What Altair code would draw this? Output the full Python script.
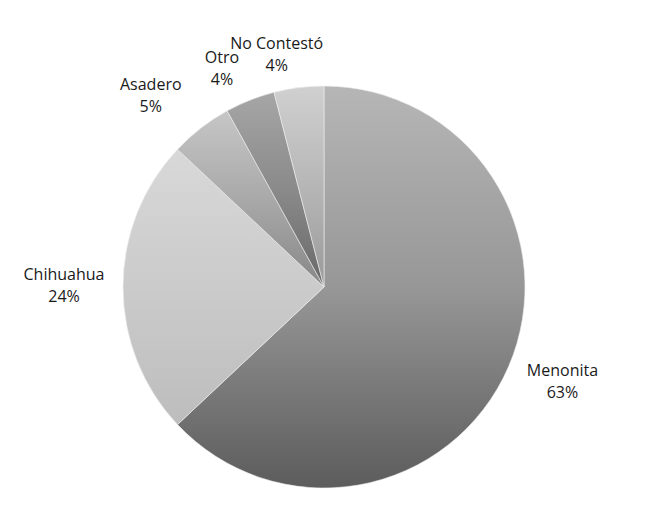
import altair as alt
import pandas as pd

# ---- data ----
categories = ["Menonita", "Chihuahua", "Asadero", "Otro", "No Contestó"]
values = [63, 24, 5, 4, 4]
order = [0, 1, 2, 3, 4]

df = pd.DataFrame({"cat": categories, "val": values, "ord": order})
df["label"] = [f"{c}\n{v}%" for c, v in zip(categories, values)]

# ---- styling ----
CX, CY, R = 316, 279, 201
LABEL_R = 250
grad = {
    "Menonita": ["#b6b6b6", "#979797", "#5c5c5c"],
    "Chihuahua": ["#d8d8d8", "#cbcbcb", "#bdbdbd"],
    "Asadero": ["#c6c6c6", "#a9a9a9", "#878787"],
    "Otro": ["#a6a6a6", "#8a8a8a", "#686868"],
    "No Contestó": ["#d0d0d0", "#b6b6b6", "#9a9a9a"],
}
label_off = {
    "Menonita": (9, -15),
    "Chihuahua": (-10, -12),
    "Asadero": (-20, -4),
    "Otro": (-10, 3),
    "No Contestó": (-16, 5),
}

theta_scale = alt.Scale(domain=[0, 100], range=[0, 6.283185307179586])

base = (
    alt.Chart(df)
    .transform_window(cum="sum(val)", sort=[alt.SortField("ord")], frame=[None, 0])
    .transform_calculate(start="datum.cum - datum.val", mid="datum.cum - datum.val / 2")
)

layers = []
for c in categories:
    g = grad[c]
    arc = (
        base.transform_filter(alt.datum.cat == c)
        .mark_arc(
            radius=R,
            stroke="#eeeeee",
            strokeWidth=0.6,
            color=alt.Gradient(
                gradient="linear",
                stops=[
                    alt.GradientStop(color=g[0], offset=0),
                    alt.GradientStop(color=g[1], offset=0.5),
                    alt.GradientStop(color=g[2], offset=1),
                ],
                x1=0, x2=0, y1=0, y2=1,
            ),
        )
        .encode(
            theta=alt.Theta("start:Q", scale=theta_scale),
            theta2="cum:Q",
            x=alt.value(CX),
            y=alt.value(CY),
        )
    )
    layers.append(arc)

for c in categories:
    ox, oy = label_off[c]
    txt = (
        base.transform_filter(alt.datum.cat == c)
        .mark_text(
            radius=LABEL_R,
            dx=ox,
            dy=oy,
            font="Open Sans",
            fontSize=16,
            color="#1a1a1a",
            lineBreak="\n",
            lineHeight=22,
            align="center",
            baseline="middle",
        )
        .encode(
            theta=alt.Theta("mid:Q", scale=theta_scale),
            text="label:N",
            x=alt.value(CX),
            y=alt.value(CY),
        )
    )
    layers.append(txt)

chart = (
    alt.layer(*layers)
    .properties(width=634, height=503, padding=0, autosize=alt.AutoSizeParams(type="none"))
    .configure_view(stroke=None)
)

chart.save("out.html", embed_options={"renderer": "svg", "actions": False})
